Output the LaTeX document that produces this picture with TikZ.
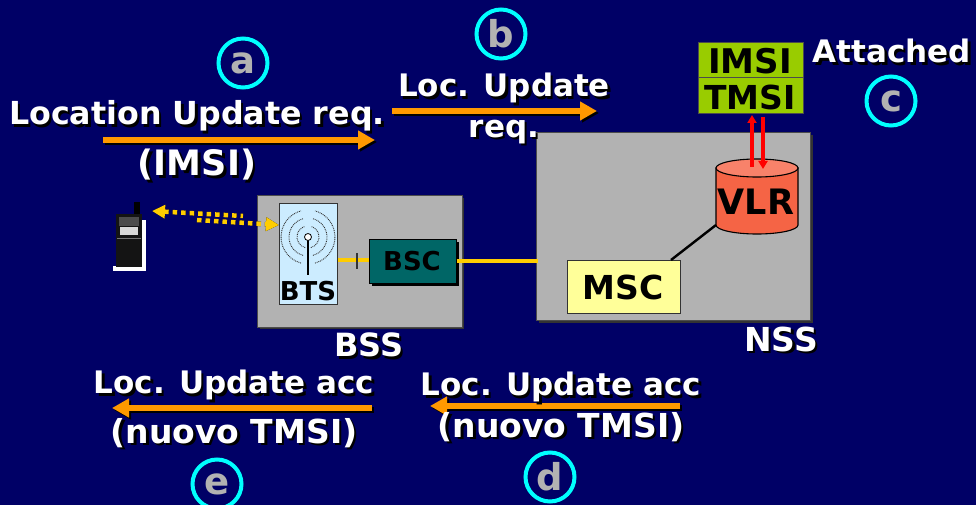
\documentclass[tikz,border=0pt]{standalone}
\usepackage{fontspec}
\setmainfont{DejaVu Sans}
\usetikzlibrary{arrows.meta,calc}
\definecolor{navybg}{HTML}{000066}
\definecolor{boxgray}{HTML}{B2B2B2}
\definecolor{orangearrow}{HTML}{FF9900}
\definecolor{goldline}{HTML}{FFCC00}
\definecolor{cyanring}{HTML}{00FFFF}
\definecolor{limebox}{HTML}{99CC00}
\definecolor{tealbox}{HTML}{006666}
\definecolor{paleyellow}{HTML}{FFFF99}
\definecolor{palecyan}{HTML}{CCECFF}
\definecolor{vlrred}{HTML}{F56445}
\definecolor{vlrtop}{HTML}{F8826A}
\tikzset{
  lab/.style={font=\fontsize{#1}{#1}\selectfont\bfseries,inner sep=0pt,text=white},
  lab/.default=25,
  blk/.style={font=\fontsize{#1}{#1}\selectfont\bfseries,inner sep=0pt,text=black},
  ring/.style={circle,draw=cyanring,line width=4pt,minimum size=49pt,inner sep=0pt,text=boxgray,font=\fontsize{37}{37}\selectfont\bfseries},
  msgarrow/.style={draw=orangearrow,line width=6pt,-{Triangle[length=17pt,width=18pt]}},
  msgshadow/.style={draw=black,line width=6pt,-{Triangle[length=17pt,width=18pt]}},
  shelf/.style={fill=boxgray,draw=black!70,line width=.8pt},
  drop/.style={fill=black!80},
  rednet/.style={draw=red,line width=3.4pt,-{Triangle[length=8pt,width=9pt]}},
  radio/.style={draw=black!80,line width=.9pt,dash pattern=on .9pt off .9pt},
  link/.style={draw=goldline,line width=4.5pt},
  airdots/.style={line width=4.5pt,dash pattern=on 4.5pt off 4pt},
}
\newcommand{\shadowtext}[5]{% name, x, y, size, text
  \node[lab=#4,text=black] (#1s) at (#2+2.5,#3+2.5) {#5};
  \node[lab=#4] (#1) at (#2,#3) {#5};
}
\begin{document}
\begin{tikzpicture}[x=1pt,y=-1pt]
\useasboundingbox (0,0) rectangle (976,505);
\fill[navybg] (0,0) rectangle (976,505);

% BSS
\fill[drop] (260,198) rectangle (464,329);
\node[shelf,minimum width=205pt,minimum height=132pt,inner sep=0pt,anchor=north west] (bss) at (257,195) {};
% NSS
\fill[drop] (539,135) rectangle (813,323);
\node[shelf,minimum width=274pt,minimum height=188pt,inner sep=0pt,anchor=north west] (nss) at (536,132) {};

% BTS
\node[fill=palecyan,draw=black!80,line width=.8pt,minimum width=58pt,minimum height=101pt,inner sep=0pt,anchor=north west] (bts) at (279,203) {};
\coordinate (ant) at (308,237);
\foreach \r in {11,19,27}{
  \draw[radio] ($(ant)+(75:\r)$) arc[start angle=75,end angle=-75,radius=\r];
  \draw[radio] ($(ant)+(105:\r)$) arc[start angle=105,end angle=255,radius=\r];
}
\draw[black,line width=2pt] (ant) -- (308,275);
\node[circle,fill=white,draw=black,line width=.8pt,minimum size=7pt,inner sep=0pt] (antenna) at (ant) {};
\node[blk=26] (btslab) at (308,291) {BTS};

% BSC
\fill[black] (372,242) rectangle (459,286);
\node[fill=tealbox,draw=black,line width=.8pt,minimum width=87pt,minimum height=44pt,inner sep=0pt,anchor=north west] (bsc) at (369,239) {};
\node[blk=26] (bsclab) at (412,261) {BSC};
\draw[link] (bts.east |- 0,260) -- (bsc.west |- 0,260);
\draw[black!80,line width=1.5pt] (357,253) -- (357,269);
\coordinate (nssedge) at (538,261);
\draw[link] (bsc.east |- nssedge) -- (nssedge);

% MSC
\node[fill=paleyellow,draw=black!80,line width=.8pt,minimum width=113pt,minimum height=53pt,inner sep=0pt,anchor=north west] (msc) at (567,260) {};
\node[blk=33] (msclab) at (623,287) {MSC};

% VLR
\fill[vlrred,draw=black,line width=1.1pt] (716,168) -- (716,225) arc[start angle=180,end angle=0,x radius=41,y radius=9] -- (798,168) -- cycle;
\draw[fill=vlrtop,draw=black,line width=1.1pt] (757,168) ellipse[x radius=41,y radius=9];
\coordinate (vlrside) at (716,225);
\node[blk=35] (vlrlab) at (756,202) {VLR};
\draw[black,line width=2.4pt] (671,260) -- (vlrside);

% IMSI / TMSI
\node[fill=limebox,draw=black!70,line width=.8pt,minimum width=105pt,minimum height=35pt,inner sep=0pt,anchor=north west] (imsi) at (698,42.5) {};
\node[fill=limebox,draw=black!70,line width=.8pt,minimum width=105pt,minimum height=36pt,inner sep=0pt,anchor=north west] (tmsi) at (698,77.5) {};
\node[blk=34] (imsilab) at (750,61) {IMSI};
\node[blk=33] (tmsilab) at (750,97) {TMSI};
\coordinate (vlrup) at (752,167);
\coordinate (tmsiup) at (752,115);
\coordinate (tmsidn) at (763,117);
\coordinate (vlrdn) at (763,169);
\draw[rednet] (vlrup) -- (tmsiup);
\draw[rednet] (tmsidn) -- (vlrdn);

% Phone
\fill[white] (142,220) rectangle (145.5,270);
\fill[white] (113,266) rectangle (146,271);
\fill[black] (134,202) rectangle (140,216);
\fill[black!92] (116,214) rectangle (142,267);
\fill[black!70] (119,217) rectangle (139,226);
\fill[white!85!black] (120,227) rectangle (138,235);
\draw[black!55,line width=.5pt] (117,238) -- (141,238);

% dotted radio link
\coordinate (phoneside) at (152,211);
\coordinate (kneeA) at (243,216);
\coordinate (kneeB) at (197,220);
\coordinate (btsside) at (279,225);
\begin{scope}[shift={(2,2)}]
\draw[black,airdots,{Triangle[length=13pt,width=13pt]}-] (phoneside) -- (kneeA);
\draw[black,airdots,-{Triangle[length=13pt,width=13pt]}] (kneeB) -- (btsside);
\end{scope}
\draw[goldline,airdots,{Triangle[length=13pt,width=13pt]}-] (phoneside) -- (kneeA);
\draw[goldline,airdots,-{Triangle[length=13pt,width=13pt]}] (kneeB) -- (btsside);

% Rings
\node[ring] (ra) at (243,63) {a};
\node[ring] (rb) at (501,34) {b};
\node[ring] (rc) at (891,101) {c};
\node[ring] (rd) at (550,477) {d};
\node[ring] (re) at (217,484) {e};

% Message arrows
\coordinate (a1) at (103,140); \coordinate (a2) at (375,140);
\coordinate (b1) at (392,111); \coordinate (b2) at (597,111);
\coordinate (d1) at (680,406); \coordinate (d2) at (430,406);
\coordinate (e1) at (372,408); \coordinate (e2) at (112,408);
\foreach \p/\q in {a1/a2,b1/b2,d1/d2,e1/e2}{
  \draw[msgshadow] ($(\p)+(2,2)$) -- ($(\q)+(2,2)$);
  \draw[msgarrow] (\p) -- (\q);
}

% Labels
\shadowtext{t1}{197}{116}{31.7}{Location Update req.}
\shadowtext{t2}{197}{165}{35}{(IMSI)}
\shadowtext{t3}{504}{88}{31}{Loc. Update}
\shadowtext{t4}{504}{132}{31}{req.}
\shadowtext{t5}{892}{51}{31}{Attached}
\shadowtext{t6}{369}{345}{32}{BSS}
\shadowtext{t7}{781}{339}{33}{NSS}
\shadowtext{t8}{234}{385}{31}{Loc. Update acc}
\shadowtext{t9}{234}{433}{33}{(nuovo TMSI)}
\shadowtext{t10}{561}{387}{31}{Loc. Update acc}
\shadowtext{t11}{561}{427}{33}{(nuovo TMSI)}
\end{tikzpicture}
\end{document}
